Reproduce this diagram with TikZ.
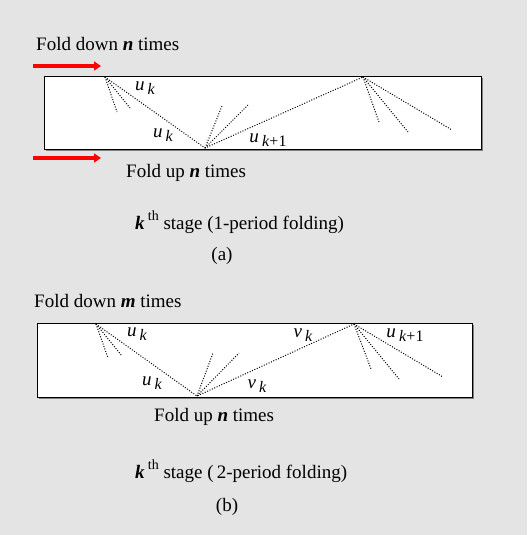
\documentclass[tikz,border=0pt]{standalone}
\usepackage{fontspec}
\setmainfont{Liberation Serif}
\usetikzlibrary{arrows.meta}
\definecolor{bggray}{RGB}{228,228,228}
\newcommand{\bn}[1]{\textbf{\textit{#1}}}
\newcommand{\sub}[2]{\textit{#1}\,\raisebox{-0.4ex}{\fontsize{16}{16}\selectfont#2}}

\begin{document}
\begin{tikzpicture}[x=1pt,y=-1pt,
  txt/.style={font=\fontsize{19}{22}\selectfont,inner sep=0pt},
  lbl/.style={font=\fontsize{19}{21}\selectfont,inner sep=0pt},
  strip/.style={draw=black,fill=white,line width=1.1pt,anchor=north west},
  ray/.style={line width=1pt,dash pattern=on 1pt off 1.6pt},
  push/.style={red,line width=3.5pt,-{Triangle[length=7pt,width=9pt]}}]
\fill[bggray] (0,0) rectangle (527,535);
\fill[gray] (45.5,77.5) rectangle (482.5,150.5);
\node[strip,minimum width=437pt,minimum height=73pt] (sa) at (44,76) {};
\fill[gray] (38.5,324.5) rectangle (473.5,398.5);
\node[strip,minimum width=435pt,minimum height=74pt] (sb) at (37,323) {};

\coordinate (wa) at (33,66);
\coordinate (ea) at (101,66);
\coordinate (wb) at (33,158);
\coordinate (eb) at (101,158);
\draw[push] (wa) -- (ea);
\draw[push] (wb) -- (eb);

\coordinate (a1) at (105,77);
\coordinate (b1) at (205,148);
\coordinate (c1) at (363,77);
\draw[ray] (a1) -- (b1) -- (c1);
\foreach \p in {(117,112),(130,108)} \draw[ray] (a1) -- \p;
\foreach \p in {(222,106),(248,105)} \draw[ray] (b1) -- \p;
\foreach \p in {(379,122),(408,132),(452,130)} \draw[ray] (c1) -- \p;

\coordinate (a2) at (96,324);
\coordinate (b2) at (197,396);
\coordinate (c2) at (354,324);
\draw[ray] (a2) -- (b2) -- (c2);
\foreach \p in {(108,358),(122,356)} \draw[ray] (a2) -- \p;
\foreach \p in {(213,353),(239,353)} \draw[ray] (b2) -- \p;
\foreach \p in {(371,369),(399,379),(443,377)} \draw[ray] (c2) -- \p;

\node[lbl] (ua1) at (145,88) {\sub{u}{\textit{k}}};
\node[lbl] (ua2) at (163,135) {\sub{u}{\textit{k}}};
\node[lbl] (ua3) at (268,140) {\sub{u}{\textit{k}+1}};
\node[lbl] (ub1) at (137,334) {\sub{u}{\textit{k}}};
\node[lbl] (ub2) at (152,383) {\sub{u}{\textit{k}}};
\node[lbl] (vb1) at (303,335) {\sub{v}{\textit{k}}};
\node[lbl] (ub3) at (405,335) {\sub{u}{\textit{k}+1}};
\node[lbl] (vb2) at (257,386) {\sub{v}{\textit{k}}};

\node[txt,anchor=west] (downa) at (36,44) {Fold down \bn{n} times};
\node[txt,anchor=west] (upa) at (126,173) {Fold up \bn{n} times};
\node[txt,anchor=west] (stagea) at (135,222) {\bn{k}\,\raisebox{1ex}{\fontsize{14}{14}\selectfont th} stage (1-period folding)};
\node[txt] (capa) at (222,256) {(a)};

\node[txt,anchor=west] (downb) at (34,301) {Fold down \bn{m} times};
\node[txt,anchor=west] (upb) at (154,417) {Fold up \bn{n} times};
\node[txt,anchor=west] (stageb) at (135,471) {\bn{k}\,\raisebox{1ex}{\fontsize{14}{14}\selectfont th} stage (\,2-period folding)};
\node[txt] (capb) at (227,507) {(b)};
\end{tikzpicture}
\end{document}
